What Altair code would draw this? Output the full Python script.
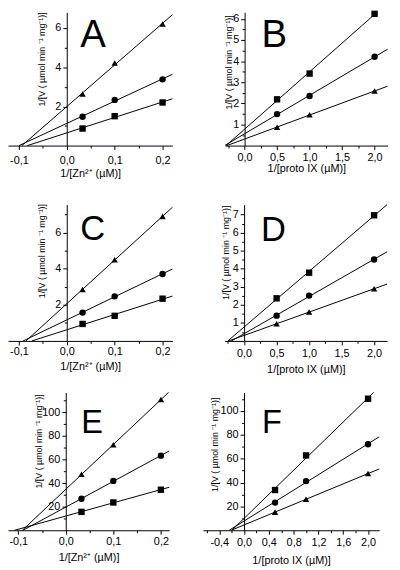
import altair as alt
import pandas as pd

FONT = "Liberation Sans"

# ---------------- data ----------------
zn_x = [0.033, 0.1, 0.2]          # 1/[Zn2+] (uM^-1)
proto_x = [0.5, 1.0, 2.0]         # 1/[proto IX] (uM^-1)

a_tri = [2.63, 4.22, 6.2]
a_cir = [1.47, 2.33, 3.38]
a_sq = [0.87, 1.5, 2.2]

b_sq = [2.19, 3.41, 6.24]
b_cir = [1.49, 2.35, 4.21]
b_tri = [0.87, 1.46, 2.58]

c_tri = [2.85, 4.5, 6.9]
c_cir = [1.57, 2.47, 3.71]
c_sq = [0.94, 1.39, 2.34]

d_sq = [2.36, 3.78, 6.96]
d_cir = [1.4, 2.51, 4.51]
d_tri = [0.95, 1.6, 2.89]

e_tri = [47.5, 72.5, 111.0]
e_cir = [26.7, 41.9, 63.3]
e_sq = [15.6, 23.6, 34.4]

f_sq = [33.7, 62.7, 110.2]
f_cir = [23.2, 41.2, 72.1]
f_tri = [15.2, 26.0, 47.5]

# tick values
zn_ticks = [-0.1, 0.0, 0.1, 0.2]
zn_minor = [-0.05, 0.05, 0.15]
proto_ticks = [0.0, 0.5, 1.0, 1.5, 2.0]
proto_minor = [-0.25, 0.25, 0.75, 1.25, 1.75]
f_ticks = [-0.4, 0.0, 0.4, 0.8, 1.2, 1.6, 2.0]
f_minor = [-0.6, -0.2, 0.2, 0.6, 1.0, 1.4, 1.8]

y_ac = [2, 4, 6]
y_a_minor = [1, 3, 5]
y_c_minor = [1, 3, 5, 7]
y_b = [1, 2, 3, 4, 5, 6]
y_b_minor = [0.5, 1.5, 2.5, 3.5, 4.5, 5.5]
y_d = [1, 2, 3, 4, 5, 6, 7]
y_d_minor = [0.5, 1.5, 2.5, 3.5, 4.5, 5.5, 6.5]
y_ef = [20, 40, 60, 80, 100]
y_ef_minor = [10, 30, 50, 70, 90, 110]

ZN_TITLE = "1/[Zn²⁺ (µM)]"
PROTO_TITLE = "1/[proto IX (µM)]"
Y_TITLE = "1/[V ( µmol min ⁻¹ mg⁻¹)]"

W, H = 390, 566   # whole view (page offset 8px)

SHAPES = alt.Scale(domain=["sq", "cir", "tri"], range=["square", "circle", "triangle-up"])
XLAB = "(datum.value < 0 ? '-' : '') + replace(format(abs(datum.value), '.1f'), '.', ',')"


def panel(xs, series, xdom, ydom, left, right, bottom, top, xt, xm, yt, ym,
          xtitle, letter, lx, ly, lsize, ytx, yty, lab_pad, xty):
    # left/right/bottom/top and lx/ly/yty are in view pixels
    rows = []
    for name, ys in series.items():
        for xv, yv in zip(xs, ys):
            rows.append({"x": xv, "y": yv, "s": name})
    df = pd.DataFrame(rows)
    x0 = left + (0 - xdom[0]) / (xdom[1] - xdom[0]) * (right - left)

    xscale = alt.Scale(domain=xdom, range=[left, right], nice=False, zero=False)
    yscale = alt.Scale(domain=ydom, range=[bottom, top], nice=False, zero=False)
    xoff = bottom - H
    yoff = -x0

    x_main = alt.X("x:Q", scale=xscale, axis=alt.Axis(
        orient="bottom", offset=xoff, values=xt, labelExpr=XLAB, title=xtitle,
        grid=False, domainColor="black", tickColor="black", tickSize=4,
        labelColor="black", titleColor="black", labelFont=FONT, titleFont=FONT,
        labelFontSize=11, titleFontSize=11, titleFontWeight="normal",
        labelPadding=lab_pad, titleY=xty, labelFlush=False,
        labelOverlap=False))
    y_main = alt.Y("y:Q", scale=yscale, axis=alt.Axis(
        orient="left", offset=yoff, values=yt, title=Y_TITLE, grid=False,
        domainColor="black", tickColor="black", tickSize=4, labelColor="black",
        titleColor="black", labelFont=FONT, titleFont=FONT, labelFontSize=11,
        titleFontSize=9, titleFontWeight="normal", labelPadding=2,
        titleX=ytx, titleY=yty, labelFlush=False, labelOverlap=False))
    x_min = alt.X("xs:Q", scale=xscale, axis=alt.Axis(
        orient="bottom", offset=xoff, values=xm, labels=False, domain=False,
        grid=False, tickColor="black", tickSize=2.5, title=None))
    y_min = alt.Y("ys:Q", scale=yscale, axis=alt.Axis(
        orient="left", offset=yoff, values=ym, labels=False, domain=False,
        grid=False, tickColor="black", tickSize=2.5, title=None))

    fit = alt.Chart(df).transform_regression(
        "x", "y", groupby=["s"], params=True
    ).transform_calculate(
        a="datum.coef[0]", b="datum.coef[1]"
    ).transform_calculate(
        xs=f"max({xdom[0]}, -datum.a / datum.b)",
        xe=f"min({xdom[1]}, ({ydom[1]} - datum.a) / datum.b)",
    ).transform_calculate(
        ys="datum.a + datum.b * datum.xs",
        ye="datum.a + datum.b * datum.xe",
    ).mark_rule(color="black", strokeWidth=1).encode(
        x=x_min, y=y_min, x2="xe:Q", y2="ye:Q")
    pts = alt.Chart(df).mark_point(
        filled=True, color="black", opacity=1, size=42
    ).encode(x=x_main, y=y_main,
             shape=alt.Shape("s:N", scale=SHAPES, legend=None))
    txt = alt.Chart(pd.DataFrame({"t": [letter]})).mark_text(
        font=FONT, fontSize=lsize, align="center", baseline="alphabetic",
        color="black"
    ).encode(x=alt.value(lx), y=alt.value(ly), text="t:N")
    return [fit, pts, txt]


O = 8  # page margin -> view coordinates
layers = []
layers += panel(zn_x, {"tri": a_tri, "cir": a_cir, "sq": a_sq},
                [-0.1227, 0.2206], [0, 6.8], 8 - O, 175 - O, 143.3 - O, 8 - O,
                zn_ticks, zn_minor, y_ac, y_a_minor, ZN_TITLE,
                "A", 94.5 - O, 43.3 - O, 39, -21, 55.3 - O, 5, 22)
layers += panel(proto_x, {"sq": b_sq, "cir": b_cir, "tri": b_tri},
                [-0.3, 2.2], [0, 6.31], 228.5 - O, 393.5 - O, 143.3 - O, 8 - O,
                proto_ticks, proto_minor, y_b, y_b_minor, PROTO_TITLE,
                "B", 278.5 - O, 43 - O, 39, -11, 58.3 - O, 2.4, 17)
layers += panel(zn_x, {"tri": c_tri, "cir": c_cir, "sq": c_sq},
                [-0.1227, 0.2206], [0, 7.55], 8 - O, 175 - O, 341.7 - O, 203.3 - O,
                zn_ticks, zn_minor, y_ac, y_c_minor, ZN_TITLE,
                "C", 94 - O, 239.3 - O, 35, -21, 250 - O, 1, 20.5)
layers += panel(proto_x, {"sq": d_sq, "cir": d_cir, "tri": d_tri},
                [-0.3, 2.2], [0, 7.55], 228 - O, 393 - O, 341.7 - O, 203.3 - O,
                proto_ticks, proto_minor, y_d, y_d_minor, PROTO_TITLE,
                "D", 277.5 - O, 240 - O, 35, -14, 251.7 - O, 2.6, 23)
layers += panel(zn_x, {"tri": e_tri, "cir": e_cir, "sq": e_sq},
                [-0.1215, 0.2174], [0, 117], 8 - O, 171.7 - O, 534 - O, 394 - O,
                zn_ticks, zn_minor, y_ef, y_ef_minor, ZN_TITLE,
                "E", 93.5 - O, 435 - O, 33, -23, 443.3 - O, 1.5, 21.5)
layers += panel(proto_x, {"sq": f_sq, "cir": f_cir, "tri": f_tri},
                [-0.663, 2.18], [0, 115.5], 206 - O, 385 - O, 534 - O, 394 - O,
                f_ticks, f_minor, y_ef, y_ef_minor, PROTO_TITLE,
                "F", 276 - O, 435 - O, 33, -25, 446.7 - O, 2.5, 25)

chart = alt.layer(*layers).resolve_scale(
    x="independent", y="independent"
).resolve_axis(
    x="independent", y="independent"
).properties(
    width=W, height=H, padding=0,
    autosize=alt.AutoSizeParams(type="none")
).configure_view(strokeWidth=0)

chart.save("out.html", embed_options={"renderer": "svg", "actions": False})
